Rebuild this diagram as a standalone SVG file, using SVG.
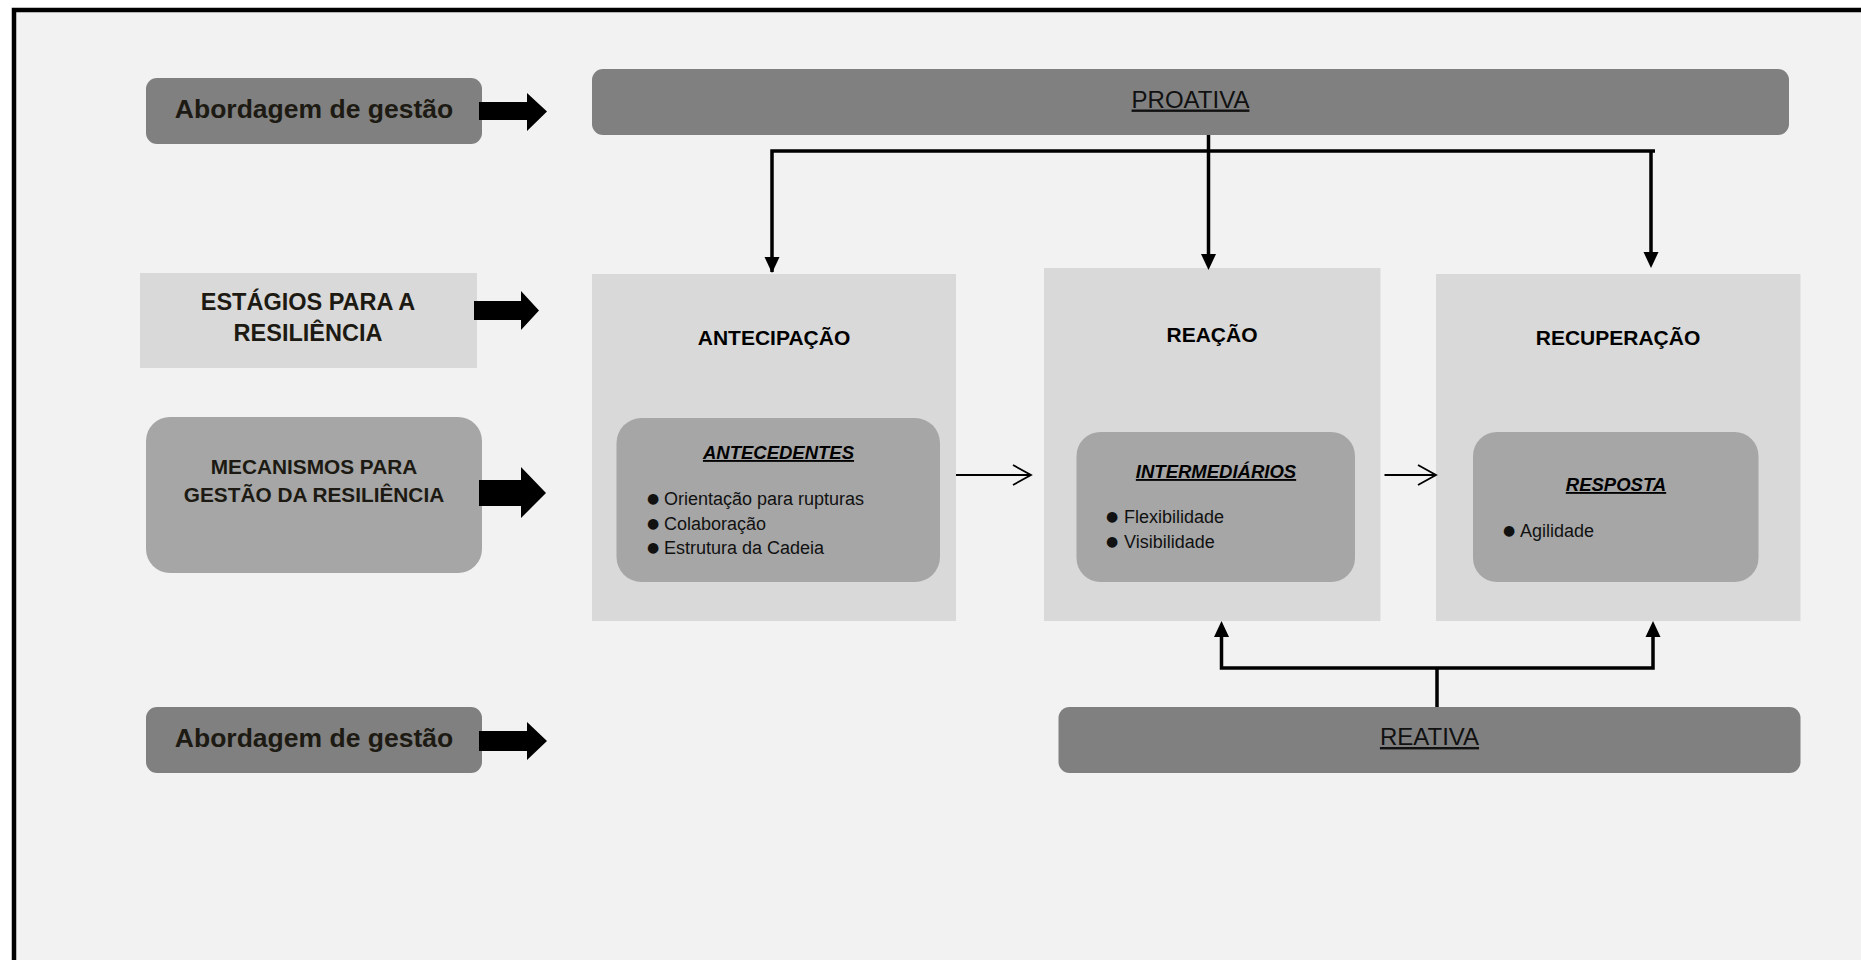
<svg xmlns="http://www.w3.org/2000/svg" width="1861" height="960" viewBox="0 0 1861 960">
  <defs>
    <style>
      .lbl { font-family: "Liberation Sans", Arial, sans-serif; font-weight: bold; fill: #1c1a12; text-anchor: middle; }
      .stage { font-family: "Liberation Sans", Arial, sans-serif; font-weight: bold; font-size: 21px; fill: #000; text-anchor: middle; }
      .head { font-family: "Liberation Sans", Arial, sans-serif; font-weight: bold; font-style: italic; font-size: 18.5px; fill: #000; text-anchor: middle; text-decoration: underline; }
      .item { font-family: "Liberation Sans", Arial, sans-serif; font-size: 18px; fill: #111; }
      .dot { font-family: "DejaVu Sans", sans-serif; font-size: 14px; }
      .band { font-family: "Liberation Sans", Arial, sans-serif; font-size: 24px; fill: #111; text-anchor: middle; text-decoration: underline; }
      .dark { fill: #808080; }
      .stagebox { fill: #d9d9d9; }
      .inner { fill: #a6a6a6; }
      .fat { fill: #000; }
      .wire { fill: none; stroke: #000; stroke-width: 3.5; }
      .thin { fill: none; stroke: #000; stroke-width: 1.8; }
      .tip { fill: #000; }
    </style>
  </defs>

  <!-- page -->
  <rect x="0" y="0" width="1861" height="960" fill="#ffffff"/>
  <rect x="14" y="10" width="1900" height="1000" fill="#f2f2f2" stroke="#000" stroke-width="4.5"/>

  <!-- left-hand row labels -->
  <g id="label-abordagem-top">
    <rect class="dark" x="146" y="78" width="336" height="66" rx="11"/>
    <text class="lbl" x="314" y="118" font-size="26.5">Abordagem de gestão</text>
  </g>
  <g id="label-estagios">
    <rect class="stagebox" x="140" y="273" width="337" height="95"/>
    <text class="lbl" x="308" y="310" font-size="23.5">ESTÁGIOS PARA A</text>
    <text class="lbl" x="308" y="341" font-size="23.5">RESILIÊNCIA</text>
  </g>
  <g id="label-mecanismos">
    <rect class="inner" x="146" y="417" width="336" height="156" rx="24"/>
    <text class="lbl" x="314" y="474" font-size="20.8">MECANISMOS PARA</text>
    <text class="lbl" x="314" y="502" font-size="20.8">GESTÃO DA RESILIÊNCIA</text>
  </g>
  <g id="label-abordagem-bottom">
    <rect class="dark" x="146" y="707" width="336" height="66" rx="11"/>
    <text class="lbl" x="314" y="747" font-size="26.5">Abordagem de gestão</text>
  </g>

  <!-- block arrows from the row labels -->
  <g id="block-arrows">
    <polygon class="fat" points="479,102 527,102 527,93 547,111.5 527,131 527,120 479,120"/>
    <polygon class="fat" points="474,301 521,301 521,291 539,310.5 521,330 521,320 474,320"/>
    <polygon class="fat" points="479,480 521,480 521,467 546,493 521,518 521,506 479,506"/>
    <polygon class="fat" points="479,731 527,731 527,722 547,741 527,760 527,751 479,751"/>
  </g>

  <!-- management bands -->
  <g id="proativa">
    <rect class="dark" x="592" y="69" width="1197" height="66" rx="11"/>
    <text class="band" x="1190.5" y="107.5">PROATIVA</text>
  </g>
  <g id="reativa">
    <rect class="dark" x="1058.5" y="707" width="742" height="66" rx="11"/>
    <text class="band" x="1429.5" y="745">REATIVA</text>
  </g>

  <!-- resilience stages -->
  <g id="antecipacao">
    <rect class="stagebox" x="592" y="274" width="364" height="347"/>
    <text class="stage" x="774" y="345">ANTECIPAÇÃO</text>
    <rect class="inner" x="616.5" y="418" width="323.5" height="164" rx="25"/>
    <text class="head" x="778.5" y="459">ANTECEDENTES</text>
    <text class="item" x="647" y="505"><tspan class="dot" dy="-2">●</tspan><tspan x="664" dy="2">Orientação para rupturas</tspan></text>
    <text class="item" x="647" y="530"><tspan class="dot" dy="-2">●</tspan><tspan x="664" dy="2">Colaboração</tspan></text>
    <text class="item" x="647" y="554"><tspan class="dot" dy="-2">●</tspan><tspan x="664" dy="2">Estrutura da Cadeia</tspan></text>
  </g>
  <g id="reacao">
    <rect class="stagebox" x="1044" y="268" width="336.5" height="353"/>
    <text class="stage" x="1212" y="342">REAÇÃO</text>
    <rect class="inner" x="1076.5" y="432" width="278.5" height="150" rx="24"/>
    <text class="head" x="1216" y="478">INTERMEDIÁRIOS</text>
    <text class="item" x="1106" y="523"><tspan class="dot" dy="-2">●</tspan><tspan x="1124" dy="2">Flexibilidade</tspan></text>
    <text class="item" x="1106" y="548"><tspan class="dot" dy="-2">●</tspan><tspan x="1124" dy="2">Visibilidade</tspan></text>
  </g>
  <g id="recuperacao">
    <rect class="stagebox" x="1436" y="274" width="364.5" height="347"/>
    <text class="stage" x="1618" y="345">RECUPERAÇÃO</text>
    <rect class="inner" x="1473" y="432" width="285.5" height="150" rx="24"/>
    <text class="head" x="1616" y="491">RESPOSTA</text>
    <text class="item" x="1503" y="537"><tspan class="dot" dy="-2">●</tspan><tspan x="1520" dy="2">Agilidade</tspan></text>
  </g>

  <!-- connectors -->
  <g id="connectors">
    <!-- proactive fan-out -->
    <path class="wire" d="M772,272 V151 H1655"/>
    <path class="wire" d="M1208.5,135 V258"/>
    <path class="wire" d="M1651,151 V256"/>
    <polygon class="tip" points="764.5,257 779.5,257 772,273"/>
    <polygon class="tip" points="1201,254 1216,254 1208.5,270"/>
    <polygon class="tip" points="1643.5,252 1658.5,252 1651,268"/>
    <!-- reactive fan-in -->
    <path class="wire" d="M1221.5,636 V668 H1653 V636"/>
    <path class="wire" d="M1437,668 V707"/>
    <polygon class="tip" points="1214,637 1229,637 1221.5,621"/>
    <polygon class="tip" points="1645.5,637 1660.5,637 1653,621"/>
    <!-- stage sequence -->
    <path class="thin" d="M956,475 H1030 M1013,465 L1031,475 L1013,485"/>
    <path class="thin" d="M1384.5,475 H1435 M1418,465 L1436,475 L1418,485"/>
  </g>
</svg>
